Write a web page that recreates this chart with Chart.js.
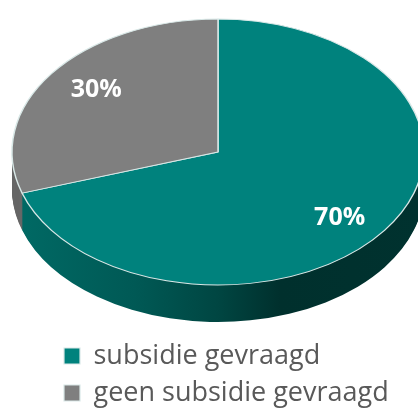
<!DOCTYPE html>
<html>
<head>
<meta charset="utf-8">
<script src="https://cdn.jsdelivr.net/npm/chart.js@4"></script>
<style>
  html, body { margin: 0; padding: 0; background: #fff; }
  #wrap { width: 418px; height: 409px; }
</style>
</head>
<body>
<div id="wrap"><canvas id="PieChart" width="418" height="409"></canvas></div>
<script>
const labels = ['subsidie gevraagd', 'geen subsidie gevraagd'];
const values = [70, 30];
const topColors = ['#00827d', '#7f7f7f'];
const sideColors = ['#005c58', '#676767'];

const ctx = document.getElementById('PieChart');

// the flat pie gets squashed into an ellipse and extruded downwards
const tilt = { cx: 218, cy: 152, rx: 206, ry: 133, depth: 37 };

function applyTilt(c, el, dy) {
  c.translate(tilt.cx, tilt.cy + dy);
  c.scale(tilt.rx / el.outerRadius, tilt.ry / el.outerRadius);
  c.translate(-el.x, -el.y);
}

const tiltPlugin = {
  id: 'tilt',
  beforeDatasetsDraw(chart) {
    const c = chart.ctx;
    const arcs = chart.getDatasetMeta(0).data;
    if (!arcs.length) return false;
    const R = arcs[0].outerRadius;
    const x0 = arcs[0].x;

    // teal wall gets darker towards the right
    const tealWall = c.createLinearGradient(x0 - R, 0, x0 + R, 0);
    tealWall.addColorStop(0, '#006a65');
    tealWall.addColorStop(0.3, '#005955');
    tealWall.addColorStop(0.5, '#004642');
    tealWall.addColorStop(0.65, '#00302d');
    tealWall.addColorStop(1, '#00322f');
    const walls = [tealWall, sideColors[1]];

    // side walls, stacked from the bottom up
    for (let d = tilt.depth; d > 0; d--) {
      arcs.forEach(function (el, i) {
        const wall = Object.create(el);
        wall.options = Object.assign({}, el.options, {
          backgroundColor: walls[i],
          borderWidth: 0
        });
        c.save();
        applyTilt(c, el, d);
        wall.draw(c);
        c.restore();
      });
    }

    // top face
    arcs.forEach(function (el) {
      c.save();
      applyTilt(c, el, 0);
      el.draw(c);
      c.restore();
    });

    // percentage labels
    const total = values.reduce((a, b) => a + b, 0);
    c.save();
    c.fillStyle = '#ffffff';
    c.font = 'bold 25px "Open Sans"';
    c.textAlign = 'center';
    c.textBaseline = 'middle';
    arcs.forEach(function (el, i) {
      const mid = (el.startAngle + el.endAngle) / 2;
      const X = tilt.cx + Math.cos(mid) * 0.73 * tilt.rx;
      const Y = tilt.cy + 2 + Math.sin(mid) * 0.82 * tilt.ry;
      c.fillText(Math.round(values[i] / total * 100) + '%', X, Y);
    });
    c.restore();

    return false;
  }
};

const PieChart = new Chart(ctx, {
  type: 'pie',
  data: {
    labels: labels,
    datasets: [{
      data: values,
      backgroundColor: topColors,
      borderColor: '#d9e8e7',
      borderWidth: 1.2
    }]
  },
  options: {
    responsive: false,
    animation: false,
    events: [],
    layout: {
      padding: { left: 54, bottom: -7.5 }
    },
    plugins: {
      legend: {
        position: 'bottom',
        align: 'start',
        labels: {
          boxWidth: 16,
          boxHeight: 16,
          padding: 10,
          color: '#595959',
          font: { family: 'Open Sans', size: 27 }
        }
      },
      tooltip: { enabled: false }
    }
  },
  plugins: [tiltPlugin]
});
</script>
</body>
</html>
